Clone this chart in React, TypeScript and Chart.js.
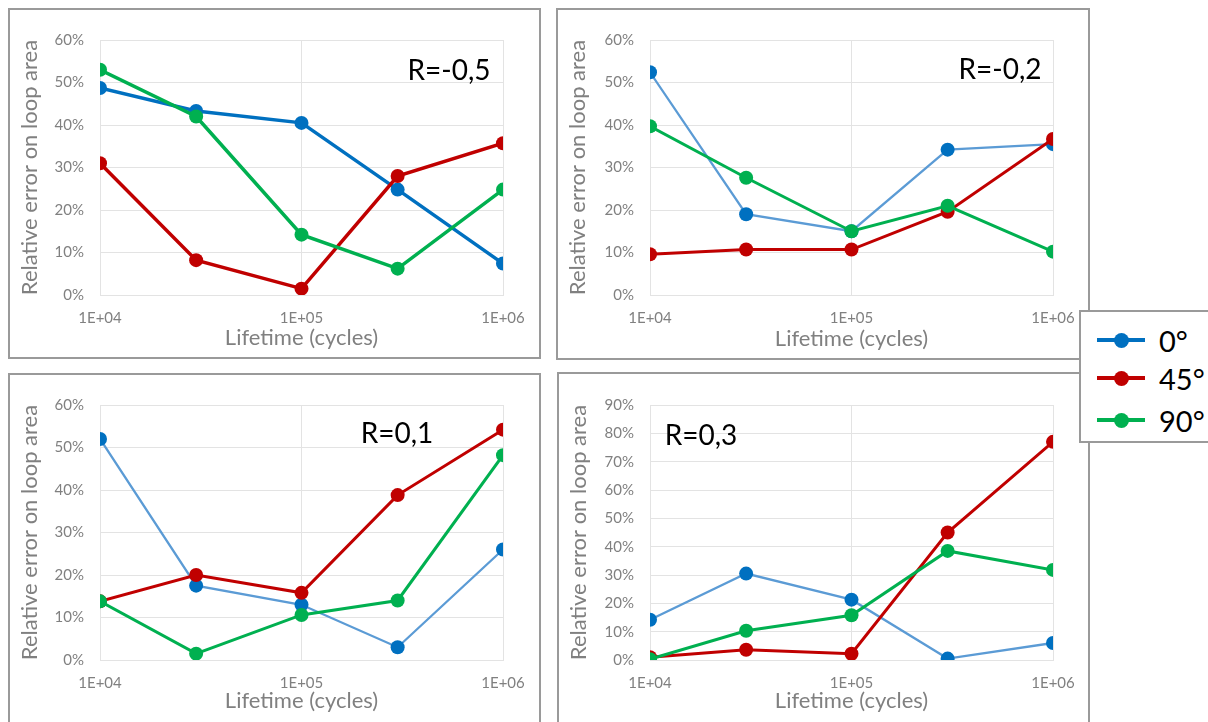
import React, { useEffect, useRef } from "react";
import { Chart, registerables } from "chart.js";

Chart.register(...registerables);

// ---------- data ----------
const lifetimes = [1e4, 3e4, 1e5, 3e5, 1e6];
const xTickValues = [1e4, 1e5, 1e6];
const seriesNames = ["0°", "45°", "90°"];

const rMinus05_0 = [48.7, 43.3, 40.5, 24.8, 7.4];
const rMinus05_45 = [31.0, 8.2, 1.5, 28.0, 35.7];
const rMinus05_90 = [53.0, 42.0, 14.2, 6.2, 24.8];

const rMinus02_0 = [52.4, 19.0, 15.0, 34.2, 35.5];
const rMinus02_45 = [9.6, 10.7, 10.7, 19.6, 36.7];
const rMinus02_90 = [39.7, 27.6, 15.0, 21.0, 10.2];

const r01_0 = [52.0, 17.5, 13.0, 3.0, 26.0];
const r01_45 = [13.8, 20.0, 15.8, 38.8, 54.2];
const r01_90 = [13.8, 1.5, 10.6, 14.0, 48.2];

const r03_0 = [14.2, 30.5, 21.3, 0.5, 6.0];
const r03_45 = [1.0, 3.6, 2.2, 45.0, 77.0];
const r03_90 = [0.3, 10.3, 15.8, 38.5, 31.8];

const panelTitles = ["R=-0,5", "R=-0,2", "R=0,1", "R=0,3"];
const yMaxima = [60, 60, 60, 90];
const xAxisTitle = "Lifetime (cycles)";
const yAxisTitle = "Relative error on loop area";

// ---------- styles ----------
const FONT = "Lato, 'Noto Sans', sans-serif";
const markerColors = ["#0070C0", "#C00000", "#00B050"];
const GRID = "#e3e3e3";
const TEXT_GRAY = "#808080";
const PANEL_BORDER = "#9a9a9a";

type Box = { l: number; t: number; r: number; b: number };

type PanelSpec = {
  title: string;
  yMax: number;
  values: number[][];
  box: Box;
  plot: Box;
  label: { x: number; y: number };
  thick: boolean;
};

const panels: PanelSpec[] = [
  {
    title: panelTitles[0],
    yMax: yMaxima[0],
    values: [rMinus05_0, rMinus05_45, rMinus05_90],
    box: { l: 8, t: 8, r: 541, b: 359 },
    plot: { l: 100, t: 40, r: 503, b: 295 },
    label: { x: 449, y: 69 },
    thick: true,
  },
  {
    title: panelTitles[1],
    yMax: yMaxima[1],
    values: [rMinus02_0, rMinus02_45, rMinus02_90],
    box: { l: 556, t: 8, r: 1090, b: 360 },
    plot: { l: 650, t: 40, r: 1053, b: 295 },
    label: { x: 1000, y: 68 },
    thick: false,
  },
  {
    title: panelTitles[2],
    yMax: yMaxima[2],
    values: [r01_0, r01_45, r01_90],
    box: { l: 8, t: 373, r: 541, b: 745 },
    plot: { l: 100, t: 405, r: 503, b: 660 },
    label: { x: 397, y: 432 },
    thick: false,
  },
  {
    title: panelTitles[3],
    yMax: yMaxima[3],
    values: [r03_0, r03_45, r03_90],
    box: { l: 557, t: 372, r: 1090, b: 745 },
    plot: { l: 650, t: 405, r: 1053, b: 660 },
    label: { x: 701, y: 434 },
    thick: false,
  },
];

const PAGE_H = 722;

function sciLabel(v: number): string {
  const e = Math.round(Math.log10(v));
  return "1E+" + String(e).padStart(2, "0");
}

function Panel({ spec }: { spec: PanelSpec }) {
  const ref = useRef<HTMLCanvasElement | null>(null);
  const cx = spec.box.l;
  const cy = spec.box.t;
  const w = spec.box.r - spec.box.l;
  const h = Math.min(spec.box.b, PAGE_H) - spec.box.t;

  useEffect(() => {
    if (!ref.current) return;
    const lineColors = [spec.thick ? "#0070C0" : "#5B9BD5", "#C00000", "#00B050"];
    const widths = spec.thick ? [3.5, 3.5, 3.5] : [2.3, 3, 3];
    const datasets = spec.values.map((vals, si) => ({
      label: seriesNames[si],
      data: lifetimes.map((x, i) => ({ x, y: vals[i] })),
      borderColor: lineColors[si],
      backgroundColor: markerColors[si],
      pointBackgroundColor: markerColors[si],
      pointBorderColor: markerColors[si],
      pointBorderWidth: 0,
      pointRadius: 7,
      borderWidth: widths[si],
      order: 3 - si,
      tension: 0,
    }));
    const chart = new Chart(ref.current, {
      type: "line",
      data: { datasets },
      options: {
        animation: false,
        responsive: false,
        maintainAspectRatio: false,
        devicePixelRatio: 1,
        layout: {
          padding: {
            left: 0,
            top: spec.plot.t - cy,
            right: cx + w - spec.plot.r,
            bottom: 0,
          },
        },
        plugins: {
          legend: { display: false },
          tooltip: { enabled: false },
        },
        scales: {
          x: {
            type: "logarithmic",
            min: 1e4,
            max: 1e6,
            afterBuildTicks: (s: any) => {
              s.ticks = xTickValues.map((v) => ({ value: v }));
            },
            afterFit: (s: any) => {
              s.height = cy + h - spec.plot.b;
            },
            ticks: {
              autoSkip: false,
              maxRotation: 0,
              padding: 14,
              color: TEXT_GRAY,
              font: { family: FONT, size: 15 },
              callback: (v: any) => sciLabel(Number(v)),
            },
            grid: { color: GRID, drawTicks: false, lineWidth: 1 },
            border: { display: true, color: GRID },
            title: {
              display: true,
              text: xAxisTitle,
              color: TEXT_GRAY,
              font: { family: FONT, size: 22 },
              padding: { top: 0, bottom: 8 },
            },
          },
          y: {
            type: "linear",
            min: 0,
            max: spec.yMax,
            afterFit: (s: any) => {
              s.width = spec.plot.l - cx;
            },
            ticks: {
              stepSize: 10,
              padding: 16,
              color: TEXT_GRAY,
              font: { family: FONT, size: 15 },
              callback: (v: any) => v + "%",
            },
            grid: { color: GRID, drawTicks: false, lineWidth: 1 },
            border: { display: true, color: GRID },
            title: {
              display: true,
              text: yAxisTitle,
              color: TEXT_GRAY,
              font: { family: FONT, size: 22 },
              padding: { top: 9, bottom: 0 },
            },
          },
        },
      },
    } as any);
    return () => chart.destroy();
  }, []);

  return (
    <>
      <canvas
        ref={ref}
        width={w}
        height={h}
        style={{ position: "absolute", left: cx, top: cy, width: w, height: h, display: "block" }}
      />
      <div
        style={{
          position: "absolute",
          left: spec.box.l,
          top: spec.box.t,
          width: spec.box.r - spec.box.l,
          height: spec.box.b - spec.box.t,
          border: `2px solid ${PANEL_BORDER}`,
          boxSizing: "border-box",
          pointerEvents: "none",
        }}
      />
      <div
        style={{
          position: "absolute",
          left: spec.label.x,
          top: spec.label.y,
          transform: "translate(-50%, -50%)",
          fontFamily: FONT,
          fontSize: 28,
          lineHeight: 1,
          color: "#000",
          whiteSpace: "nowrap",
        }}
      >
        {spec.title}
      </div>
    </>
  );
}

const legendRows = [338, 376, 418];

function Legend() {
  return (
    <div
      style={{
        position: "absolute",
        left: 1079,
        top: 310,
        width: 140,
        height: 133,
        border: `2px solid ${PANEL_BORDER}`,
        boxSizing: "border-box",
        background: "#fff",
        zIndex: 5,
      }}
    >
      {seriesNames.map((name, i) => (
        <React.Fragment key={name}>
          <div
            style={{
              position: "absolute",
              left: 1095 - 1079,
              top: legendRows[i] - 310 - 2,
              width: 48,
              height: 4,
              background: markerColors[i],
            }}
          />
          <div
            style={{
              position: "absolute",
              left: 1119 - 1079 - 7.5,
              top: legendRows[i] - 310 - 7.5,
              width: 15,
              height: 15,
              borderRadius: "50%",
              background: markerColors[i],
            }}
          />
          <div
            style={{
              position: "absolute",
              left: 1157 - 1079,
              top: legendRows[i] - 310,
              transform: "translateY(-50%)",
              fontFamily: FONT,
              fontSize: 29,
              lineHeight: 1,
              color: "#000",
              whiteSpace: "nowrap",
            }}
          >
            {name}
          </div>
        </React.Fragment>
      ))}
    </div>
  );
}

export default function App() {
  return (
    <div
      style={{
        position: "absolute",
        left: 0,
        top: 0,
        width: 1208,
        height: 722,
        overflow: "hidden",
        background: "#fff",
      }}
    >
      {panels.map((p) => (
        <Panel key={p.title} spec={p} />
      ))}
      <Legend />
    </div>
  );
}
